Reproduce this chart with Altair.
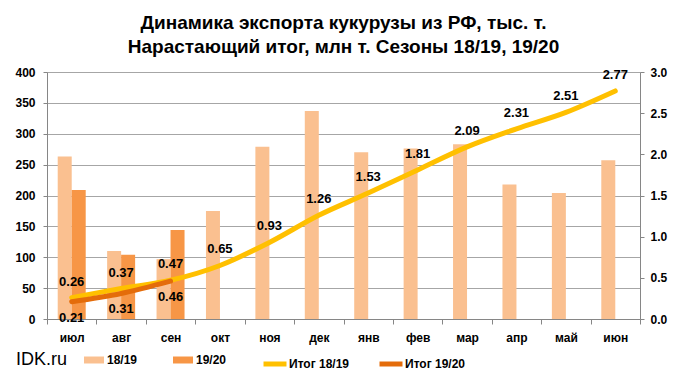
import altair as alt
import pandas as pd

months = ["июл", "авг", "сен", "окт", "ноя", "дек", "янв", "фев", "мар", "апр", "май", "июн"]
exp_1819 = [263, 110, 97, 175, 279, 337, 270, 276, 283, 218, 204, 257]
exp_1920 = [209, 104, 144]
cum_1819 = [0.26, 0.37, 0.47, 0.65, 0.93, 1.26, 1.53, 1.81, 2.09, 2.31, 2.51, 2.77]
cum_1920 = [0.21, 0.31, 0.46]

bar_series = ["18/19", "19/20"]
bar_colors = ["#FAC090", "#F79646"]
line_series = ["Итог 18/19", "Итог 19/20"]
line_colors = ["#FFC000", "#E46C0A"]

FONT = "Liberation Sans"

b18 = pd.DataFrame({"month": months, "v": exp_1819, "s": "18/19"})
b19 = pd.DataFrame({"month": months[:3], "v": exp_1920, "s": "19/20"})
l18 = pd.DataFrame({"month": months, "c": cum_1819, "s": "Итог 18/19"})
l19 = pd.DataFrame({"month": months[:3], "c": cum_1920, "s": "Итог 19/20"})

x_enc = alt.X(
    "month:N",
    sort=months,
    scale=alt.Scale(domain=months, paddingInner=0, paddingOuter=0),
    axis=alt.Axis(title=None, labelAngle=0, labelFont=FONT, labelFontSize=12,
                  labelFontWeight="bold", labelColor="#000000", domainColor="#868686",
                  tickColor="#868686", tickBand="extent", tickSize=5, labelPadding=8,
                  grid=False),
)

fill_enc = alt.Fill(
    "s:N",
    scale=alt.Scale(domain=bar_series, range=bar_colors),
    legend=alt.Legend(title=None, orient="none", legendX=37, legendY=278, direction="horizontal",
                      symbolType="M-1,-0.35L1,-0.35L1,0.35L-1,0.35Z", symbolSize=400,
                      symbolStrokeWidth=0, labelFont=FONT, labelFontSize=12, labelFontWeight="bold",
                      labelColor="#000000", labelOffset=3, columnPadding=35),
)

y_left = alt.Y(
    "v:Q",
    scale=alt.Scale(domain=[0, 400]),
    axis=alt.Axis(title=None, values=list(range(0, 401, 50)), labelFont=FONT, labelFontSize=12,
                  labelFontWeight="bold", labelColor="#000000", domainColor="#868686",
                  tickColor="#868686", tickSize=4, labelPadding=8, grid=True,
                  gridColor="#a6a6a6", orient="left"),
)

bars18 = alt.Chart(b18).mark_bar(width=14, xOffset=-7).encode(x=x_enc, y=y_left, fill=fill_enc)
bars19 = alt.Chart(b19).mark_bar(width=14, xOffset=7).encode(x=x_enc, y=y_left, fill=fill_enc)
bars = alt.layer(bars18, bars19)

y_right = alt.Y(
    "c:Q",
    scale=alt.Scale(domain=[0, 3]),
    axis=alt.Axis(title=None, values=[0, 0.5, 1, 1.5, 2, 2.5, 3], format=".1f", labelFont=FONT,
                  labelFontSize=12, labelFontWeight="bold", labelColor="#000000",
                  domainColor="#868686", tickColor="#868686", tickSize=4, labelPadding=6,
                  grid=False, orient="right"),
)

stroke_enc = alt.Stroke(
    "s:N",
    scale=alt.Scale(domain=line_series, range=line_colors),
    legend=alt.Legend(title=None, orient="none", legendX=214, legendY=278, direction="horizontal",
                      symbolType="stroke", symbolSize=529, symbolStrokeWidth=5,
                      labelFont=FONT, labelFontSize=12, labelFontWeight="bold",
                      labelColor="#000000", labelOffset=0, columnPadding=19),
)

line18 = alt.Chart(l18).mark_line(interpolate="monotone", strokeWidth=5, strokeCap="round").encode(
    x=x_enc, y=y_right, stroke=stroke_enc)
line19 = alt.Chart(l19).mark_line(interpolate="monotone", strokeWidth=5, strokeCap="round").encode(
    x=x_enc, y=y_right, stroke=stroke_enc)
text18 = alt.Chart(l18).mark_text(dy=-16, font=FONT, fontSize=13, fontWeight="bold", color="#000000").encode(
    x=x_enc, y=y_right, text=alt.Text("c:Q", format=".2f"))
text19 = alt.Chart(l19).mark_text(dy=16, font=FONT, fontSize=13, fontWeight="bold", color="#000000").encode(
    x=x_enc, y=y_right, text=alt.Text("c:Q", format=".2f"))
brand = alt.Chart(pd.DataFrame({"t": ["IDK.ru"]})).mark_text(
    align="left", baseline="middle", font=FONT, fontSize=18, color="#000000").encode(
    x=alt.value(-31), y=alt.value(288), text="t:N")

lines = alt.layer(line18, line19, text18, text19, brand)

chart = alt.layer(bars, lines).resolve_scale(y="independent").properties(
    width=593,
    height=247,
    padding={"left": 6, "top": 6, "right": 5, "bottom": 5},
    title=alt.TitleParams(
        ["Динамика экспорта кукурузы из РФ, тыс. т.", "Нарастающий итог, млн т. Сезоны 18/19, 19/20"],
        font=FONT, fontSize=19, fontWeight="bold", lineHeight=24, anchor="middle", offset=9,
        color="#000000"),
).configure_view(stroke=None).configure(background="white")

chart.save("out.html", embed_options={"renderer": "svg", "actions": False})
